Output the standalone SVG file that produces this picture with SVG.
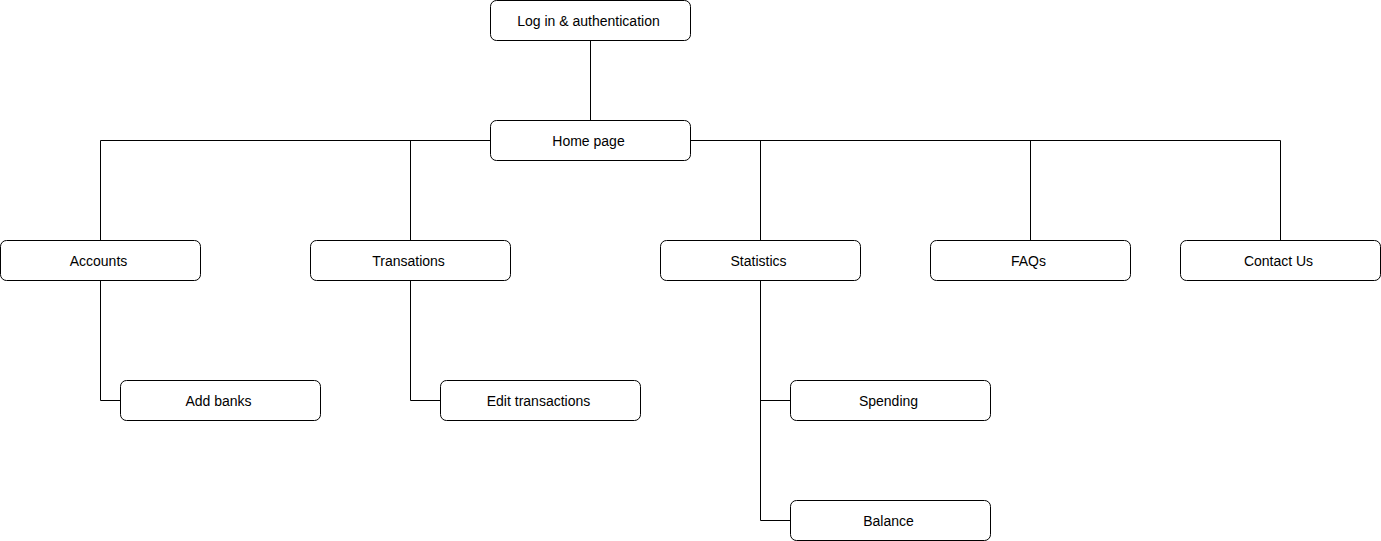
<svg xmlns="http://www.w3.org/2000/svg" width="1381" height="541" viewBox="0 0 1381 541">
  <style>
    .box { fill: #ffffff; stroke: #000000; stroke-width: 1; }
    .lbl { font-family: "Liberation Sans", Arial, sans-serif; font-size: 14px; fill: #000000; text-anchor: middle; dominant-baseline: central; }
    .wire { fill: none; stroke: #000000; stroke-width: 1; }
  </style>
  <rect width="1381" height="541" fill="#ffffff"/>
  <g id="connectors">
    <path class="wire" d="M590.5 40.5 V120.5"/>
    <path class="wire" d="M490.5 140.5 H100.5 V240.5"/>
    <path class="wire" d="M410.5 140.5 V240.5"/>
    <path class="wire" d="M690.5 140.5 H1280.5 V240.5"/>
    <path class="wire" d="M760.5 140.5 V240.5"/>
    <path class="wire" d="M1030.5 140.5 V240.5"/>
    <path class="wire" d="M100.5 280.5 V400.5 H120.5"/>
    <path class="wire" d="M410.5 280.5 V400.5 H440.5"/>
    <path class="wire" d="M760.5 280.5 V520.5 H790.5"/>
    <path class="wire" d="M760.5 400.5 H790.5"/>
  </g>
  <g id="login"><rect class="box" x="490.5" y="0.5" width="200" height="40" rx="6"/><text class="lbl" x="588.5" y="21">Log in &amp; authentication</text></g>
  <g id="home"><rect class="box" x="490.5" y="120.5" width="200" height="40" rx="6"/><text class="lbl" x="588.5" y="141">Home page</text></g>
  <g id="accounts"><rect class="box" x="0.5" y="240.5" width="200" height="40" rx="6"/><text class="lbl" x="98.5" y="261">Accounts</text></g>
  <g id="transations"><rect class="box" x="310.5" y="240.5" width="200" height="40" rx="6"/><text class="lbl" x="408.5" y="261">Transations</text></g>
  <g id="statistics"><rect class="box" x="660.5" y="240.5" width="200" height="40" rx="6"/><text class="lbl" x="758.5" y="261">Statistics</text></g>
  <g id="faqs"><rect class="box" x="930.5" y="240.5" width="200" height="40" rx="6"/><text class="lbl" x="1028.5" y="261">FAQs</text></g>
  <g id="contact"><rect class="box" x="1180.5" y="240.5" width="200" height="40" rx="6"/><text class="lbl" x="1278.5" y="261">Contact Us</text></g>
  <g id="addbanks"><rect class="box" x="120.5" y="380.5" width="200" height="40" rx="6"/><text class="lbl" x="218.5" y="401">Add banks</text></g>
  <g id="edittrans"><rect class="box" x="440.5" y="380.5" width="200" height="40" rx="6"/><text class="lbl" x="538.5" y="401">Edit transactions</text></g>
  <g id="spending"><rect class="box" x="790.5" y="380.5" width="200" height="40" rx="6"/><text class="lbl" x="888.5" y="401">Spending</text></g>
  <g id="balance"><rect class="box" x="790.5" y="500.5" width="200" height="40" rx="6"/><text class="lbl" x="888.5" y="521">Balance</text></g>
</svg>
